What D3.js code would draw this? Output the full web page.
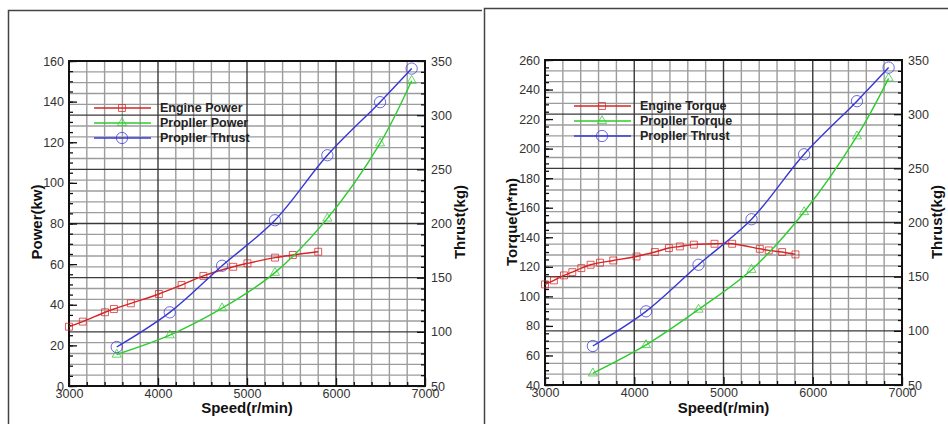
<!DOCTYPE html>
<html>
<head>
<meta charset="utf-8">
<script src="https://cdn.jsdelivr.net/npm/d3@7"></script>
<style>
  html, body { margin: 0; padding: 0; background: #fff; }
  svg { display: block; }
  text { font-family: "Liberation Sans", Arial, sans-serif; }
</style>
</head>
<body>
<svg id="chart" width="948" height="424"></svg>
<script>
// ---------- data ----------
const engineSpeed = [3000, 3155, 3405, 3505, 3695, 4010, 4265, 4510, 4845, 5005, 5315, 5515, 5800];
const enginePower = [29.2, 31.7, 36.3, 37.9, 40.7, 45.3, 49.7, 54.2, 58.7, 60.4, 63.2, 64.5, 66.1];

const torqueSpeed = [3000, 3100, 3213, 3306, 3407, 3511, 3616, 3765, 4026, 4231, 4388, 4511, 4668, 4899, 5097, 5407, 5507, 5657, 5806];
const engineTorque = [108.1, 110.8, 114.2, 116.4, 119.1, 121.4, 122.8, 124.3, 127.0, 130.0, 132.7, 133.8, 135.0, 135.6, 135.6, 132.2, 131.1, 130.0, 128.4];

const propSpeed = [3536, 4132, 4720, 5314, 5903, 6495, 6850];
const propPower = [15.5, 25.0, 38.3, 55.8, 82.5, 119.5, 150.3];
const propTorque = [47.9, 67.1, 91.1, 118.0, 157.1, 208.4, 247.6];
const propThrust = [86, 118, 161, 203, 263, 312, 343];

const speedTicks = [3000, 4000, 5000, 6000, 7000];
const powerTicks = [0, 20, 40, 60, 80, 100, 120, 140, 160];
const torqueTicks = [40, 60, 80, 100, 120, 140, 160, 180, 200, 220, 240, 260];
const thrustTicks = [50, 100, 150, 200, 250, 300, 350];

const legendPower = ["Engine Power", "Propller Power", "Propller Thrust"];
const legendTorque = ["Engine Torque", "Propller Torque", "Propller Thrust"];

// ---------- styles ----------
const RED = "#d82424", GREEN = "#2dcc2d", BLUE = "#3737d6";
const svg = d3.select("#chart");
const fmt = d3.format("d");

// outer frames
svg.append("path").attr("d", "M8.5,424V10.5H482").attr("fill", "none").attr("stroke", "#444").attr("stroke-width", 1.5);
svg.append("path").attr("d", "M484.5,424V8.5H948").attr("fill", "none").attr("stroke", "#444").attr("stroke-width", 1.5);

function drawChart(cfg) {
  const x = d3.scaleLinear().domain([3000, 7000]).range([cfg.x0, cfg.x1]);
  const yL = d3.scaleLinear().domain(cfg.yDomain).range([cfg.y1, cfg.y0]);
  const yR = d3.scaleLinear().domain([50, 350]).range([cfg.y1, cfg.y0]);
  const g = svg.append("g");

  // grid: vertical minor / major
  const vMinor = d3.range(3000, 7001, 200).filter(v => v % 1000 !== 0);
  const hMinor = d3.range(50, 351, 10).filter(v => v % 50 !== 0);
  g.append("g").selectAll("line").data(vMinor).join("line")
    .attr("x1", d => x(d)).attr("x2", d => x(d)).attr("y1", cfg.y0).attr("y2", cfg.y1)
    .attr("stroke", "#9c9c9c").attr("stroke-width", 1.4);
  g.append("g").selectAll("line").data(hMinor).join("line")
    .attr("y1", d => yR(d)).attr("y2", d => yR(d)).attr("x1", cfg.x0).attr("x2", cfg.x1)
    .attr("stroke", "#9c9c9c").attr("stroke-width", 1.4);
  g.append("g").selectAll("line").data(speedTicks).join("line")
    .attr("x1", d => x(d)).attr("x2", d => x(d)).attr("y1", cfg.y0).attr("y2", cfg.y1)
    .attr("stroke", "#3a3a3a").attr("stroke-width", 1.4);
  g.append("g").selectAll("line").data(thrustTicks).join("line")
    .attr("y1", d => yR(d)).attr("y2", d => yR(d)).attr("x1", cfg.x0).attr("x2", cfg.x1)
    .attr("stroke", "#3a3a3a").attr("stroke-width", 1.4);

  // axes
  const styleAxis = sel => {
    sel.select(".domain").remove();
    sel.selectAll(".tick line").attr("stroke", "#111").attr("stroke-width", 1.3);
    sel.selectAll(".tick text").attr("fill", "#333").style("font-size", "12.5px").style("font-family", "'Liberation Sans', Arial, sans-serif");
  };
  g.append("g").attr("transform", `translate(${cfg.x0},0)`)
    .call(d3.axisLeft(yL).tickValues(cfg.yTicks).tickFormat(fmt).tickSize(-8).tickPadding(5)).call(styleAxis);
  g.append("g").attr("transform", `translate(${cfg.x0},0)`)
    .call(d3.axisLeft(yL).tickValues(d3.range(cfg.yDomain[0], cfg.yDomain[1] + 0.1, 5)).tickSize(-4).tickFormat("")).call(styleAxis);
  g.append("g").attr("transform", `translate(${cfg.x1},0)`)
    .call(d3.axisRight(yR).tickValues(thrustTicks).tickFormat(fmt).tickSize(-8).tickPadding(6)).call(styleAxis);
  g.append("g").attr("transform", `translate(${cfg.x1},0)`)
    .call(d3.axisRight(yR).tickValues(hMinor).tickSize(-4).tickFormat("")).call(styleAxis);
  g.append("g").attr("transform", `translate(0,${cfg.y1})`)
    .call(d3.axisBottom(x).tickValues(speedTicks).tickFormat(fmt).tickSize(-8).tickPadding(3)).call(styleAxis);
  g.append("g").attr("transform", `translate(0,${cfg.y1})`)
    .call(d3.axisBottom(x).tickValues(vMinor).tickSize(-4).tickFormat("")).call(styleAxis);

  // plot border
  g.append("rect").attr("x", cfg.x0).attr("y", cfg.y0).attr("width", cfg.x1 - cfg.x0).attr("height", cfg.y1 - cfg.y0)
    .attr("fill", "none").attr("stroke", "#111").attr("stroke-width", 2);

  // series
  const series = [
    { xs: cfg.engX, ys: cfg.engY, y: yL, color: RED, marker: "square" },
    { xs: propSpeed, ys: cfg.propY, y: yL, color: GREEN, marker: "triangle" },
    { xs: propSpeed, ys: propThrust, y: yR, color: BLUE, marker: "circle" }
  ];
  const line = d3.line().curve(d3.curveCatmullRom.alpha(0.5));
  const sym = { square: d3.symbolSquare, triangle: d3.symbolTriangle, circle: d3.symbolCircle };
  const symSize = { square: 48, triangle: 36, circle: 100 };
  series.forEach(s => {
    const pts = s.xs.map((v, i) => [x(v), s.y(s.ys[i])]);
    g.append("path").attr("d", line(pts)).attr("fill", "none").attr("stroke", s.color).attr("stroke-width", 1.4);
    g.append("g").selectAll("path").data(pts).join("path")
      .attr("transform", d => `translate(${d[0]},${d[1]})`)
      .attr("d", d3.symbol().type(sym[s.marker]).size(symSize[s.marker]))
      .attr("fill", "none").attr("stroke", s.color).attr("stroke-opacity", 0.75).attr("stroke-width", 1);
  });

  // legend
  cfg.legend.forEach((name, i) => {
    const s = series[i];
    const ly = cfg.legY + i * 15;
    g.append("line").attr("x1", cfg.legX).attr("x2", cfg.legX + 57).attr("y1", ly).attr("y2", ly)
      .attr("stroke", s.color).attr("stroke-width", 1.4);
    g.append("path").attr("transform", `translate(${cfg.legX + 28},${ly})`)
      .attr("d", d3.symbol().type(sym[s.marker]).size(symSize[s.marker]))
      .attr("fill", "none").attr("stroke", s.color).attr("stroke-opacity", 0.75).attr("stroke-width", 1);
    g.append("text").attr("x", cfg.legX + 66).attr("y", ly).attr("dy", "0.35em")
      .attr("fill", "#222").style("font-size", "12.5px").style("font-weight", "bold").text(name);
  });

  // axis titles
  const title = (tx, ty, rot, txt) => g.append("text")
    .attr("transform", `translate(${tx},${ty}) rotate(${rot})`)
    .attr("text-anchor", "middle").attr("dy", "0.35em")
    .attr("fill", "#111").style("font-size", "15px").style("font-weight", "bold").text(txt);
  title(cfg.leftTitleX, 222, -90, cfg.leftTitle);
  title(cfg.rightTitleX, 222, -90, "Thrust(kg)");
  title((cfg.x0 + cfg.x1) / 2, 408, 0, "Speed(r/min)");
}

drawChart({
  x0: 69, x1: 425, y0: 61, y1: 386,
  yDomain: [0, 160], yTicks: powerTicks,
  engX: engineSpeed, engY: enginePower, propY: propPower,
  legend: legendPower, legX: 94, legY: 108,
  leftTitle: "Power(kw)", leftTitleX: 37, rightTitleX: 460
});
drawChart({
  x0: 545, x1: 902, y0: 60, y1: 385,
  yDomain: [40, 260], yTicks: torqueTicks,
  engX: torqueSpeed, engY: engineTorque, propY: propTorque,
  legend: legendTorque, legX: 574, legY: 106,
  leftTitle: "Torque(n*m)", leftTitleX: 512, rightTitleX: 937
});
</script>
</body>
</html>
